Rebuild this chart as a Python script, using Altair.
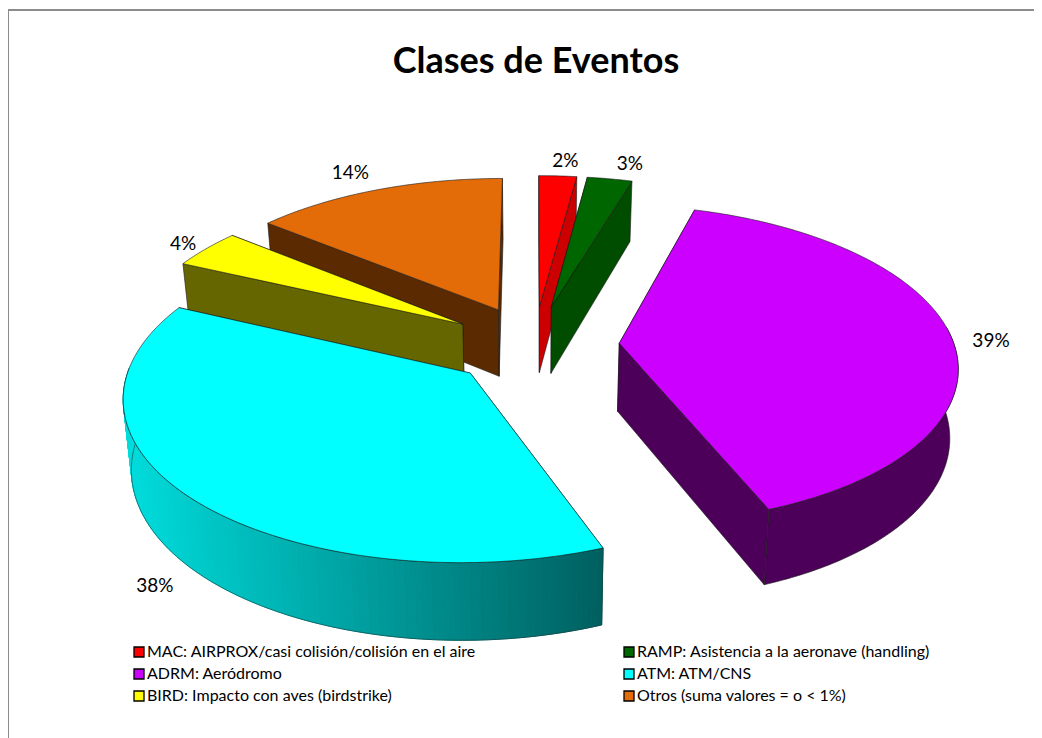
import math
import altair as alt

categories = ["MAC: AIRPROX/casi colisión/colisión en el aire",
              "RAMP: Asistencia a la aeronave (handling)",
              "ADRM: Aeródromo", "ATM: ATM/CNS",
              "BIRD: Impacto con aves (birdstrike)",
              "Otros (suma valores = o < 1%)"]
values = [2.1, 2.5, 39.5, 37.8, 4.0, 14.1]
labels = ["2%", "3%", "39%", "38%", "4%", "14%"]
top_colors = ["#FF0000", "#006600", "#CC00FF", "#00FFFF", "#FFFF00", "#E36C09"]
side_colors = ["#CC0000", "#004D00", "#4D0059", "#008080", "#666600", "#5C2A00"]
paint_order = [5, 4, 0, 1, 2, 3]

# projection of the tilted pie (layout, pixels of the page)
CX, CY = 534.0, 345.0
A, B, P = 335.0, 157.0, 0.13
EXPLODE, H, NARROW = 0.255, 68.0, 0.02
OX, OY = 8, 8
label_radius = [1.10, 1.10, 1.09, 1.15, 1.10, 1.07]
label_dx = [6, 15, 10, 13, 1, -19]
label_dy = [-3, -4, 5, 68, 2, -9]


def pt(theta, r, ex, ez):
    t = math.radians(theta)
    xd, zd = r * math.sin(t) + ex, -r * math.cos(t) + ez
    s = 1 / (1 - P * zd)
    return [CX + A * xd * s - OX, CY + B * zd * s - OY], H * s ** 0.8


def down(p, h):
    cx = CX - OX
    return [cx + (p[0] - cx) * (1 - NARROW), p[1] + h]


features = []


def add(poly, fill, stroke="#1a1a1a", sw=0.6):
    ring = [list(p) for p in poly] + [list(poly[0])]
    features.append({"type": "Feature",
                     "geometry": {"type": "Polygon", "coordinates": [ring]},
                     "properties": {"fill": fill, "stroke": stroke, "sw": sw}})


def mix(c0, c1, t):
    a = [int(c0[i:i + 2], 16) for i in (1, 3, 5)]
    b = [int(c1[i:i + 2], 16) for i in (1, 3, 5)]
    return "#%02x%02x%02x" % tuple(round(a[i] + (b[i] - a[i]) * t) for i in range(3))


cum = [0]
for v in values:
    cum.append(cum[-1] + v)
total = cum[-1]
text_rows = []

for i in paint_order:
    t0, t1 = cum[i] / total * 360, cum[i + 1] / total * 360
    mid = math.radians((t0 + t1) / 2)
    ex, ez = EXPLODE * math.sin(mid), -EXPLODE * math.cos(mid)
    apex, ha = pt(0, 0, ex, ez)
    n = max(4, int((t1 - t0) / 0.8))
    thetas = [t0 + (t1 - t0) * k / n for k in range(n + 1)]
    arc = [pt(t, 1, ex, ez) for t in thetas]
    # only the part of the rim that faces the viewer is drawn
    rim = [a for t, a in zip(thetas, arc) if 84 <= t <= 272]

    def cut(entry):
        p, h = entry
        add([apex, p, down(p, h), down(apex, ha)], side_colors[i])

    faces = [(arc[0], -math.cos(math.radians(t0 - 90))), (arc[-1], -math.cos(math.radians(t1 + 90)))]
    for entry, z in faces:
        if z <= -0.01:
            cut(entry)
    if len(rim) > 1:
        strip = [p for p, _ in rim] + [down(p, h) for p, h in reversed(rim)]
        if i == 3:
            for k in range(len(rim) - 1):
                (p0, h0), (p1, h1) = rim[k], rim[k + 1]
                f = min(1, max(0, (p0[0] + OX - 125) / 482))
                c = mix("#00DCDC", "#005F5F", f)
                add([p0, p1, down(p1, h1), down(p0, h0)], c, c, 1.0)
            add(strip, "transparent", "#1a4040", 0.6)
        else:
            add(strip, side_colors[i])
    for entry, z in faces:
        if z > -0.01:
            cut(entry)
    # top
    add([apex] + [p for p, _ in arc], top_colors[i], "#1a1a1a", 0.6)
    lp, _ = pt(math.degrees(mid), label_radius[i], ex, ez)
    text_rows.append({"label": labels[i], "x": lp[0] + label_dx[i], "y": lp[1] + label_dy[i]})

W, H_VIEW = 1026, 730

legend_layer = alt.Chart(alt.Data(values=[{"c": c} for c in categories])).mark_square(size=1).encode(
    x=alt.value(300), y=alt.value(400),
    color=alt.Color("c:N", scale=alt.Scale(domain=categories, range=top_colors), sort=None,
                    legend=alt.Legend(title=None, orient="none", legendX=123, legendY=636,
                                      columns=2, direction="horizontal", symbolType="square",
                                      symbolSize=100, symbolStrokeColor="black", symbolStrokeWidth=1.3,
                                      labelFont="Lato", labelFontSize=16, labelColor="#000000",
                                      labelOffset=0, labelLimit=500, rowPadding=6, columnPadding=145,
                                      symbolOpacity=1)))

pie = alt.Chart(alt.Data(values=features, format=alt.DataFormat(type="json"))).mark_geoshape().encode(
    fill=alt.Fill("properties.fill:N", scale=None),
    stroke=alt.Stroke("properties.stroke:N", scale=None),
    strokeWidth=alt.StrokeWidth("properties.sw:Q", scale=None),
).project(type="identity", scale=1, translate=[0, 0])

texts = alt.Chart(alt.Data(values=text_rows)).mark_text(font="Lato", fontSize=19, color="#000000").encode(
    x=alt.X("x:Q", scale=None), y=alt.Y("y:Q", scale=None), text="label:N")

border = alt.Chart(alt.Data(values=[{"a": 0}]))
top_line = border.mark_rule(color="#8c8c8c", strokeWidth=2).encode(
    x=alt.value(0), x2=alt.value(W), y=alt.value(2))
left_line = border.mark_rule(color="#8c8c8c", strokeWidth=2).encode(
    x=alt.value(0), y=alt.value(2), y2=alt.value(H_VIEW))

chart = alt.layer(top_line, left_line, legend_layer, pie, texts).properties(
    width=W, height=H_VIEW, padding=0,
    autosize=alt.AutoSizeParams(type="none"),
    background="white",
    title=alt.TitleParams("Clases de Eventos", font="Lato", fontSize=36, fontWeight="bold",
                          color="#000000", anchor="middle", offset=-73, dx=15),
).configure_view(stroke=None)

chart.save("out.html", embed_options={"renderer": "svg", "actions": False})
